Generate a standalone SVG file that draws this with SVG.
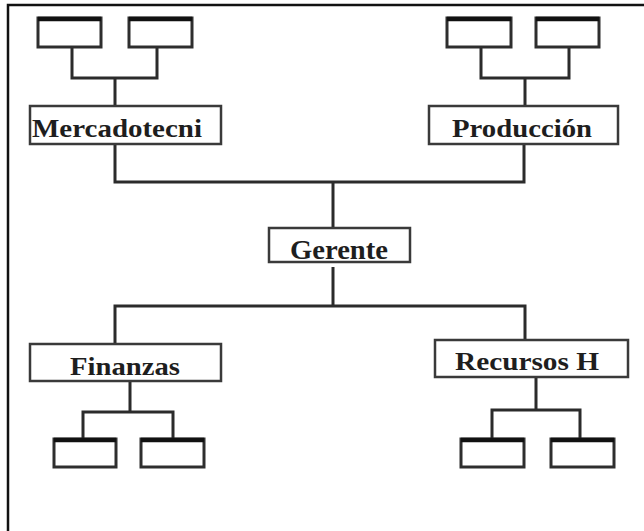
<svg xmlns="http://www.w3.org/2000/svg" width="644" height="531" viewBox="0 0 644 531">
  <style>
    .frame { fill: none; stroke: #111; stroke-width: 2.5; }
    .dept { fill: #fff; stroke: #3a3a3a; stroke-width: 2.5; }
    .leaf { fill: #fff; stroke: #2e2e2e; stroke-width: 3; }
    .cap { stroke: #111; stroke-width: 4.5; fill: none; }
    .wire { fill: none; stroke: #2b2b2b; stroke-width: 3; stroke-linejoin: miter; }
    .label { font-family: "Liberation Serif", "Times New Roman", serif; font-weight: bold; fill: #1e1e1e; text-anchor: middle; }
  </style>

  <!-- page frame (only top and left edges fall inside the canvas) -->
  <path class="frame" d="M8,531 V5 H644"/>

  <!-- connectors -->
  <g id="connectors">
    <path class="wire" d="M72,48 V78 H157 V48 M115,78 V106"/>
    <path class="wire" d="M481,47 V78 H569 V47 M525,78 V106"/>
    <path class="wire" d="M115,144 V182 H524 V144"/>
    <path class="wire" d="M333,182 V228"/>
    <path class="wire" d="M333,267 V306"/>
    <path class="wire" d="M115,344 V306 H525 V340"/>
    <path class="wire" d="M130,381 V412 M83,439 V412 H173 V439"/>
    <path class="wire" d="M536,377 V410 M492,439 V410 H580 V439"/>
  </g>

  <!-- subordinate boxes -->
  <g id="leaf-m1"><rect class="leaf" x="38" y="18" width="63" height="29"/><path class="cap" d="M38,19 H101"/></g>
  <g id="leaf-m2"><rect class="leaf" x="129" y="18" width="63" height="29"/><path class="cap" d="M129,19 H192"/></g>
  <g id="leaf-p1"><rect class="leaf" x="447" y="18" width="64" height="29"/><path class="cap" d="M447,19 H511"/></g>
  <g id="leaf-p2"><rect class="leaf" x="536" y="18" width="63" height="29"/><path class="cap" d="M536,19 H599"/></g>
  <g id="leaf-f1"><rect class="leaf" x="54" y="439" width="62" height="28"/><path class="cap" d="M54,440 H116"/></g>
  <g id="leaf-f2"><rect class="leaf" x="141" y="439" width="63" height="28"/><path class="cap" d="M141,440 H204"/></g>
  <g id="leaf-r1"><rect class="leaf" x="461" y="439" width="63" height="28"/><path class="cap" d="M461,440 H524"/></g>
  <g id="leaf-r2"><rect class="leaf" x="551" y="439" width="63" height="28"/><path class="cap" d="M551,440 H614"/></g>

  <!-- departments -->
  <g id="mercadotecnia">
    <rect class="dept" x="30" y="106" width="191" height="38"/>
    <text class="label" x="117" y="137" font-size="26" textLength="170" lengthAdjust="spacingAndGlyphs">Mercadotecni</text>
  </g>
  <g id="produccion">
    <rect class="dept" x="429" y="106" width="189" height="38"/>
    <text class="label" x="522" y="137" font-size="26" textLength="140" lengthAdjust="spacingAndGlyphs">Producción</text>
  </g>
  <g id="gerente">
    <rect class="dept" x="269" y="228" width="141" height="34"/>
    <text class="label" x="339" y="259" font-size="28" textLength="98" lengthAdjust="spacingAndGlyphs">Gerente</text>
  </g>
  <g id="finanzas">
    <rect class="dept" x="30" y="344" width="191" height="37"/>
    <text class="label" x="125" y="375" font-size="26" textLength="110" lengthAdjust="spacingAndGlyphs">Finanzas</text>
  </g>
  <g id="recursos-h">
    <rect class="dept" x="435" y="340" width="193" height="37" stroke-width="3.5" stroke="#222"/>
    <text class="label" x="527" y="370" font-size="25" textLength="144" lengthAdjust="spacingAndGlyphs">Recursos H</text>
  </g>
</svg>
